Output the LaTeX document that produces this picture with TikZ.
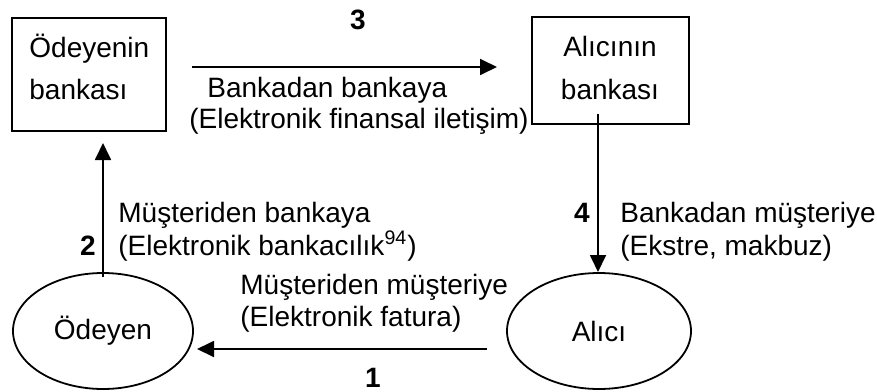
\documentclass[tikz,border=0pt]{standalone}
\usepackage{fontspec}
\setmainfont{Liberation Sans}
\usetikzlibrary{arrows.meta,shapes.geometric}
\begin{document}
\begin{tikzpicture}[x=0.5pt,y=-0.5pt,
  every node/.style={font=\fontsize{14}{17}\selectfont, inner sep=0pt},
  bankbox/.style={draw, line width=0.9pt, minimum width=77pt, minimum height=56.5pt},
  party/.style={draw, ellipse, line width=0.9pt, minimum width=91pt, minimum height=58pt},
  flow/.style={line width=0.9pt, -{Triangle[length=8.5pt,width=8pt]}},
  stepno/.style={font=\fontsize{14}{17}\selectfont\bfseries},
  lbl/.style={anchor=base west}]
  \useasboundingbox (0,0) rectangle (877,391);

  % banks
  \node[bankbox] (pbank) at (89,74.5) {};
  \node[lbl] (pbank1) at (29,57) {Ödeyenin};
  \node[lbl] (pbank2) at (29,99) {bankası};
  \node[bankbox, minimum width=78.5pt, minimum height=53.5pt] (rbank) at (610.5,70.5) {};
  \node[anchor=base] (rbank1) at (610,56) {Alıcının};
  \node[anchor=base] (rbank2) at (610,99) {bankası};

  % customers
  \node[party, minimum width=90pt] (payer) at (103,331) {Ödeyen};
  \node[party, minimum width=92pt] (payee) at (599,331) {Alıcı};

  % free ends of the flows
  \coordinate (t1) at (192,67);
  \coordinate (t2) at (497,67);
  \coordinate (r1) at (598,114);
  \coordinate (r2) at (598,272);
  \coordinate (l1) at (103,277);
  \coordinate (l2) at (103,143);
  \coordinate (b1) at (487,349);
  \coordinate (b2) at (197,349);

  % flows
  \draw[flow] (t1) -- (t2);
  \draw[flow] (r1) -- (r2);
  \draw[flow] (l1) -- (l2);
  \draw[flow] (b1) -- (b2);

  % step 3
  \node[stepno, anchor=base] (n3) at (358,29) {3};
  \node[lbl] (e3a) at (207,97) {Bankadan bankaya};
  \node[lbl] (e3b) at (189,128) {(Elektronik finansal iletişim)};

  % step 4
  \node[stepno, anchor=base] (n4) at (582,222) {4};
  \node[lbl] (e4a) at (620,222) {Bankadan müşteriye};
  \node[lbl] (e4b) at (620,255) {(Ekstre, makbuz)};

  % step 2
  \node[stepno, anchor=base] (n2) at (88,255) {2};
  \node[lbl] (e2a) at (118,222) {Müşteriden bankaya};
  \node[lbl] (e2b) at (118,255) {(Elektronik bankacılık\textsuperscript{94})};

  % step 1
  \node[lbl] (e1a) at (240,294) {Müşteriden müşteriye};
  \node[lbl] (e1b) at (240,326) {(Elektronik fatura)};
  \node[stepno, anchor=base] (n1) at (373,387) {1};
\end{tikzpicture}
\end{document}
